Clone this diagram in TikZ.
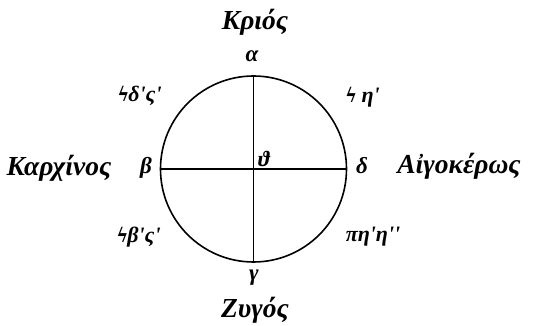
\documentclass[tikz,border=0pt]{standalone}
\usepackage{fontspec}
\setmainfont{Liberation Serif}
\begin{document}
\begin{tikzpicture}[x=1pt,y=-1pt,
  lbl/.style={font=\fontsize{27.5}{28}\selectfont\bfseries\itshape, inner sep=0pt},
  sym/.style={font=\fontsize{22}{22}\selectfont\bfseries\itshape, inner sep=0pt},
  pt/.style={font=\fontsize{23}{23}\selectfont\bfseries\itshape, inner sep=0pt},
  axis/.style={line width=1.3pt}]
\useasboundingbox (0,0) rectangle (539,326);
\coordinate (O) at (253.5,169);
\node[circle, draw, line width=1.6pt, minimum size=186pt, inner sep=0pt] (C) at (O) {};
\draw[axis] (C.north) -- (C.south);
\draw[axis] (C.west) -- (C.east);
\node[lbl] (krios) at (255,22) {Κριός};
\node[pt] (a) at (252,56) {α};
\node[pt] (b) at (146,168) {β};
\node[pt] (g) at (254,278) {γ};
\node[pt] (d) at (362,166) {δ};
\node[sym] (th) at (264,159) {ϑ};
\node[lbl] (kark) at (59,168) {Καρχίνος};
\node[lbl] (aigo) at (459,166) {Αἰγοκέρως};
\node[lbl] (zyg) at (255,310) {Ζυγός};
\node[sym] (nw) at (140,96) {ϟδʹςʹ};
\node[sym] (ne) at (363,97) {ϟ ηʹ};
\node[sym] (sw) at (139,237) {ϟβʹςʹ};
\node[sym] (se) at (373,237) {πηʹηʹʹ};
\end{tikzpicture}
\end{document}
